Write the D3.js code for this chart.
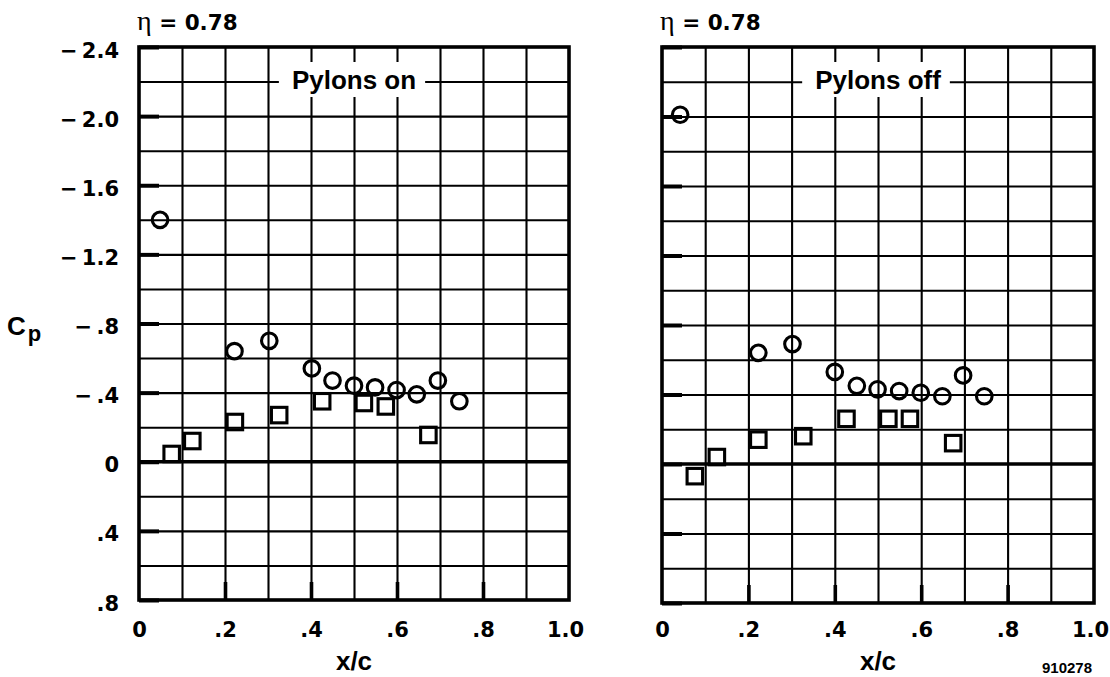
<!DOCTYPE html>
<html>
<head>
<meta charset="utf-8">
<script src="https://cdn.jsdelivr.net/npm/d3@7"></script>
<style>
  html, body { margin: 0; padding: 0; background: #fff; }
  svg { display: block; }
</style>
</head>
<body>
<svg id="chart" width="1110" height="677"></svg>
<script>
// ---- axis ticks and labels ----
const xTickValues = [0, 0.2, 0.4, 0.6, 0.8, 1.0];
const xTickLabels = ["0", ".2", ".4", ".6", ".8", "1.0"];
const yTickValues = [-2.4, -2.0, -1.6, -1.2, -0.8, -0.4, 0, 0.4, 0.8];
const yTickLabels = ["\u2212\u20092.4", "\u2212\u20092.0", "\u2212\u20091.6", "\u2212\u20091.2",
                     "\u2212\u2009.8", "\u2212\u2009.4", "0", ".4", ".8"];
const panelTitles = ["Pylons on", "Pylons off"];
const etaValue = "0.78";
const figureId = "910278";

// ---- pressure coefficient data, Pylons on ----
const onCircleX  = [0.049, 0.222, 0.303, 0.402, 0.450, 0.500, 0.549, 0.599, 0.646, 0.695, 0.745];
const onCircleCp = [-1.40, -0.64, -0.70, -0.54, -0.47, -0.44, -0.43, -0.415, -0.39, -0.47, -0.35];
const onSquareX  = [0.076, 0.124, 0.223, 0.326, 0.426, 0.523, 0.574, 0.673];
const onSquareCp = [-0.045, -0.12, -0.23, -0.27, -0.35, -0.34, -0.32, -0.155];

// ---- pressure coefficient data, Pylons off ----
const offCircleX  = [0.042, 0.223, 0.302, 0.400, 0.451, 0.499, 0.549, 0.599, 0.649, 0.697, 0.746];
const offCircleCp = [-2.01, -0.64, -0.69, -0.53, -0.45, -0.43, -0.42, -0.41, -0.39, -0.51, -0.39];
const offSquareX  = [0.076, 0.127, 0.223, 0.327, 0.427, 0.524, 0.574, 0.674];
const offSquareCp = [0.07, -0.04, -0.14, -0.16, -0.26, -0.26, -0.26, -0.12];

const svg = d3.select("#chart");
const tickFont = "'DejaVu Sans', sans-serif";
const textFont = "'Liberation Sans', Arial, sans-serif";

const panels = [
  { title: panelTitles[0], left: 139, right: 569, top: 47, bottom: 600, yLabels: true,
    circles: onCircleX.map((x, i) => ({ x, cp: onCircleCp[i] })),
    squares: onSquareX.map((x, i) => ({ x, cp: onSquareCp[i] })) },
  { title: panelTitles[1], left: 662, right: 1094, top: 47, bottom: 603, yLabels: false,
    circles: offCircleX.map((x, i) => ({ x, cp: offCircleCp[i] })),
    squares: offSquareX.map((x, i) => ({ x, cp: offSquareCp[i] })) }
];

const gridX = d3.range(1, 10).map(d => d / 10);
const gridY = d3.range(-11, 4).map(d => d / 5).filter(d => d !== 0);

panels.forEach(p => {
  const x = d3.scaleLinear().domain([0, 1]).range([p.left, p.right]);
  const y = d3.scaleLinear().domain([-2.4, 0.8]).range([p.top, p.bottom]);
  const w = p.right - p.left, h = p.bottom - p.top;
  const g = svg.append("g");

  // vertical grid lines
  g.append("g")
    .attr("transform", `translate(0,${p.bottom})`)
    .call(d3.axisBottom(x).tickValues(gridX).tickSize(-h).tickFormat(""))
    .call(a => a.select(".domain").remove())
    .selectAll("line").attr("stroke", "#000").attr("stroke-width", 2.1);

  // horizontal grid lines
  g.append("g")
    .attr("transform", `translate(${p.left},0)`)
    .call(d3.axisLeft(y).tickValues(gridY).tickSize(-w).tickFormat(""))
    .call(a => a.select(".domain").remove())
    .selectAll("line").attr("stroke", "#000").attr("stroke-width", 2.1);

  // zero line
  g.append("line")
    .attr("x1", p.left).attr("x2", p.right)
    .attr("y1", y(0)).attr("y2", y(0))
    .attr("stroke", "#000").attr("stroke-width", 3.6);

  // inner tick marks along left and bottom edges
  g.append("g")
    .attr("transform", `translate(${p.left},0)`)
    .call(d3.axisRight(y).tickValues(yTickValues).tickSize(20).tickFormat(""))
    .call(a => a.select(".domain").remove())
    .selectAll("line").attr("stroke", "#000").attr("stroke-width", 4);
  g.append("g")
    .attr("transform", `translate(0,${p.bottom})`)
    .call(d3.axisTop(x).tickValues(xTickValues.slice(1, -1)).tickSize(18).tickFormat(""))
    .call(a => a.select(".domain").remove())
    .selectAll("line").attr("stroke", "#000").attr("stroke-width", 3.6);

  // panel title on a white box over the grid
  const titleX = x(0.5);
  const titleBox = g.append("rect").attr("fill", "#fff");
  const title = g.append("text")
    .attr("x", titleX).attr("y", 89)
    .attr("text-anchor", "middle")
    .attr("font-family", textFont).attr("font-weight", "bold").attr("font-size", 26)
    .text(p.title);
  const tw = title.node().getComputedTextLength();
  titleBox.attr("x", titleX - tw / 2 - 13).attr("y", 62)
    .attr("width", tw + 22).attr("height", 35);

  // circle markers
  g.append("g").selectAll("circle").data(p.circles).join("circle")
    .attr("cx", d => x(d.x)).attr("cy", d => y(d.cp)).attr("r", 7.8)
    .attr("fill", "none").attr("stroke", "#000").attr("stroke-width", 3.1);

  // square markers
  const s = 15.5;
  g.append("g").selectAll("rect").data(p.squares).join("rect")
    .attr("x", d => x(d.x) - s / 2).attr("y", d => y(d.cp) - s / 2)
    .attr("width", s).attr("height", s)
    .attr("fill", "none").attr("stroke", "#000").attr("stroke-width", 3.1);

  // frame
  g.append("rect")
    .attr("x", p.left).attr("y", p.top).attr("width", w).attr("height", h)
    .attr("fill", "none").attr("stroke", "#000").attr("stroke-width", 3.6);

  // x tick labels
  g.append("g")
    .attr("transform", `translate(0,${p.bottom})`)
    .call(d3.axisBottom(x).tickValues(xTickValues).tickSize(0)
      .tickFormat((d, i) => xTickLabels[i]))
    .call(a => a.select(".domain").remove())
    .selectAll("text")
    .attr("y", 637 - p.bottom).attr("dy", 0)
    .attr("dx", d => d === 1 ? -4 : 0)
    .attr("fill", "#000")
    .attr("font-family", tickFont).attr("font-weight", "bold").attr("font-size", 21);

  // y tick labels
  if (p.yLabels) {
    g.append("g")
      .attr("transform", `translate(${p.left},0)`)
      .call(d3.axisLeft(y).tickValues(yTickValues).tickSize(0).tickPadding(20)
        .tickFormat((d, i) => yTickLabels[i]))
      .call(a => a.select(".domain").remove())
      .selectAll("text")
      .attr("dy", "0.48em")
      .attr("fill", "#000")
      .attr("font-family", tickFont).attr("font-weight", "bold").attr("font-size", 21);
  }

  // eta station label
  const eta = g.append("text").attr("x", p.left - 2).attr("y", 29.5).attr("fill", "#000");
  eta.append("tspan").attr("font-family", "'Liberation Serif', serif").attr("font-size", 28).text("\u03b7");
  eta.append("tspan").attr("font-family", tickFont).attr("font-weight", "bold").attr("font-size", 21.5)
    .text(" = " + etaValue);

  // x axis title
  g.append("text")
    .attr("x", x(0.5)).attr("y", 670).attr("text-anchor", "middle")
    .attr("font-family", textFont).attr("font-weight", "bold").attr("font-size", 26)
    .text("x/c");
});

// Cp axis title
const cpLabel = svg.append("text").attr("x", 7).attr("y", 335)
  .attr("font-family", textFont).attr("font-weight", "bold").attr("font-size", 26);
cpLabel.append("tspan").text("C");
cpLabel.append("tspan").attr("font-size", 22).attr("dy", 5.5).attr("dx", 2).text("p");

// figure number
svg.append("text").attr("x", 1042).attr("y", 673)
  .attr("font-family", textFont).attr("font-weight", "bold").attr("font-size", 15)
  .text(figureId);
</script>
</body>
</html>
